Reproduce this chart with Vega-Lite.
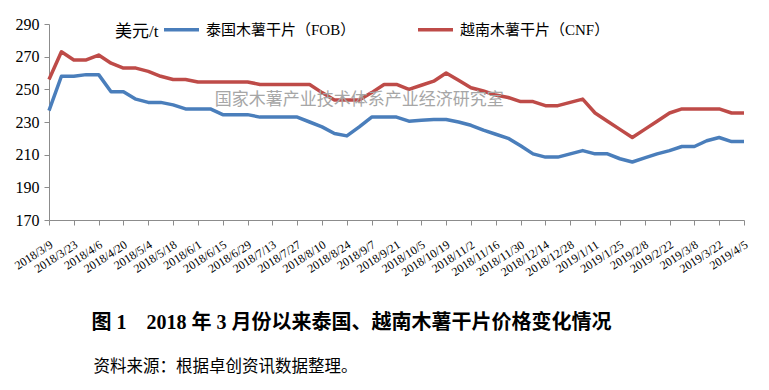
{
  "$schema": "https://vega.github.io/schema/vega-lite/v6.json",
  "width": 695,
  "height": 196,
  "autosize": {"type": "none"},
  "padding": {"left": 49, "top": 24, "right": 25, "bottom": 170},
  "background": "white",
  "config": {"view": {"stroke": null}, "font": "Liberation Serif, Noto Sans CJK SC", "axis": {"labelOverlap": false}},
  "resolve": {"axis": {"x": "independent", "y": "independent"}},
  "layer": [
    {
      "data": {"values": [
        {"date": "2018/3/9", "s": "泰国木薯干片（FOB）", "v": 237},
        {"date": "2018/3/16", "s": "泰国木薯干片（FOB）", "v": 258},
        {"date": "2018/3/23", "s": "泰国木薯干片（FOB）", "v": 258},
        {"date": "2018/3/30", "s": "泰国木薯干片（FOB）", "v": 259},
        {"date": "2018/4/6", "s": "泰国木薯干片（FOB）", "v": 259},
        {"date": "2018/4/13", "s": "泰国木薯干片（FOB）", "v": 248.5},
        {"date": "2018/4/20", "s": "泰国木薯干片（FOB）", "v": 248.5},
        {"date": "2018/4/27", "s": "泰国木薯干片（FOB）", "v": 244},
        {"date": "2018/5/4", "s": "泰国木薯干片（FOB）", "v": 242},
        {"date": "2018/5/11", "s": "泰国木薯干片（FOB）", "v": 242},
        {"date": "2018/5/18", "s": "泰国木薯干片（FOB）", "v": 240.5},
        {"date": "2018/5/25", "s": "泰国木薯干片（FOB）", "v": 238},
        {"date": "2018/6/1", "s": "泰国木薯干片（FOB）", "v": 238},
        {"date": "2018/6/8", "s": "泰国木薯干片（FOB）", "v": 238},
        {"date": "2018/6/15", "s": "泰国木薯干片（FOB）", "v": 234.5},
        {"date": "2018/6/22", "s": "泰国木薯干片（FOB）", "v": 234.5},
        {"date": "2018/6/29", "s": "泰国木薯干片（FOB）", "v": 234.5},
        {"date": "2018/7/6", "s": "泰国木薯干片（FOB）", "v": 233},
        {"date": "2018/7/13", "s": "泰国木薯干片（FOB）", "v": 233},
        {"date": "2018/7/20", "s": "泰国木薯干片（FOB）", "v": 233},
        {"date": "2018/7/27", "s": "泰国木薯干片（FOB）", "v": 233},
        {"date": "2018/8/3", "s": "泰国木薯干片（FOB）", "v": 230},
        {"date": "2018/8/10", "s": "泰国木薯干片（FOB）", "v": 227},
        {"date": "2018/8/17", "s": "泰国木薯干片（FOB）", "v": 223},
        {"date": "2018/8/24", "s": "泰国木薯干片（FOB）", "v": 221.5},
        {"date": "2018/8/31", "s": "泰国木薯干片（FOB）", "v": 227},
        {"date": "2018/9/7", "s": "泰国木薯干片（FOB）", "v": 233},
        {"date": "2018/9/14", "s": "泰国木薯干片（FOB）", "v": 233},
        {"date": "2018/9/21", "s": "泰国木薯干片（FOB）", "v": 233},
        {"date": "2018/9/28", "s": "泰国木薯干片（FOB）", "v": 230.5},
        {"date": "2018/10/5", "s": "泰国木薯干片（FOB）", "v": 231},
        {"date": "2018/10/12", "s": "泰国木薯干片（FOB）", "v": 231.5},
        {"date": "2018/10/19", "s": "泰国木薯干片（FOB）", "v": 231.5},
        {"date": "2018/10/26", "s": "泰国木薯干片（FOB）", "v": 230},
        {"date": "2018/11/2", "s": "泰国木薯干片（FOB）", "v": 228},
        {"date": "2018/11/9", "s": "泰国木薯干片（FOB）", "v": 225},
        {"date": "2018/11/16", "s": "泰国木薯干片（FOB）", "v": 222.5},
        {"date": "2018/11/23", "s": "泰国木薯干片（FOB）", "v": 220},
        {"date": "2018/11/30", "s": "泰国木薯干片（FOB）", "v": 215.5},
        {"date": "2018/12/7", "s": "泰国木薯干片（FOB）", "v": 210.5},
        {"date": "2018/12/14", "s": "泰国木薯干片（FOB）", "v": 208.5},
        {"date": "2018/12/21", "s": "泰国木薯干片（FOB）", "v": 208.5},
        {"date": "2018/12/28", "s": "泰国木薯干片（FOB）", "v": 210.5},
        {"date": "2019/1/4", "s": "泰国木薯干片（FOB）", "v": 212.5},
        {"date": "2019/1/11", "s": "泰国木薯干片（FOB）", "v": 210.5},
        {"date": "2019/1/18", "s": "泰国木薯干片（FOB）", "v": 210.5},
        {"date": "2019/1/25", "s": "泰国木薯干片（FOB）", "v": 207.5},
        {"date": "2019/2/1", "s": "泰国木薯干片（FOB）", "v": 205.5},
        {"date": "2019/2/8", "s": "泰国木薯干片（FOB）", "v": 208},
        {"date": "2019/2/15", "s": "泰国木薯干片（FOB）", "v": 210.5},
        {"date": "2019/2/22", "s": "泰国木薯干片（FOB）", "v": 212.5},
        {"date": "2019/3/1", "s": "泰国木薯干片（FOB）", "v": 215},
        {"date": "2019/3/8", "s": "泰国木薯干片（FOB）", "v": 215},
        {"date": "2019/3/15", "s": "泰国木薯干片（FOB）", "v": 218.5},
        {"date": "2019/3/22", "s": "泰国木薯干片（FOB）", "v": 220.5},
        {"date": "2019/3/29", "s": "泰国木薯干片（FOB）", "v": 218},
        {"date": "2019/4/5", "s": "泰国木薯干片（FOB）", "v": 218},
        {"date": "2018/3/9", "s": "越南木薯干片（CNF）", "v": 256},
        {"date": "2018/3/16", "s": "越南木薯干片（CNF）", "v": 273},
        {"date": "2018/3/23", "s": "越南木薯干片（CNF）", "v": 268},
        {"date": "2018/3/30", "s": "越南木薯干片（CNF）", "v": 268},
        {"date": "2018/4/6", "s": "越南木薯干片（CNF）", "v": 271},
        {"date": "2018/4/13", "s": "越南木薯干片（CNF）", "v": 266},
        {"date": "2018/4/20", "s": "越南木薯干片（CNF）", "v": 263},
        {"date": "2018/4/27", "s": "越南木薯干片（CNF）", "v": 263},
        {"date": "2018/5/4", "s": "越南木薯干片（CNF）", "v": 261},
        {"date": "2018/5/11", "s": "越南木薯干片（CNF）", "v": 258},
        {"date": "2018/5/18", "s": "越南木薯干片（CNF）", "v": 256},
        {"date": "2018/5/25", "s": "越南木薯干片（CNF）", "v": 256},
        {"date": "2018/6/1", "s": "越南木薯干片（CNF）", "v": 254.5},
        {"date": "2018/6/8", "s": "越南木薯干片（CNF）", "v": 254.5},
        {"date": "2018/6/15", "s": "越南木薯干片（CNF）", "v": 254.5},
        {"date": "2018/6/22", "s": "越南木薯干片（CNF）", "v": 254.5},
        {"date": "2018/6/29", "s": "越南木薯干片（CNF）", "v": 254.5},
        {"date": "2018/7/6", "s": "越南木薯干片（CNF）", "v": 253},
        {"date": "2018/7/13", "s": "越南木薯干片（CNF）", "v": 253},
        {"date": "2018/7/20", "s": "越南木薯干片（CNF）", "v": 253},
        {"date": "2018/7/27", "s": "越南木薯干片（CNF）", "v": 253},
        {"date": "2018/8/3", "s": "越南木薯干片（CNF）", "v": 253},
        {"date": "2018/8/10", "s": "越南木薯干片（CNF）", "v": 248},
        {"date": "2018/8/17", "s": "越南木薯干片（CNF）", "v": 243.5},
        {"date": "2018/8/24", "s": "越南木薯干片（CNF）", "v": 243.5},
        {"date": "2018/8/31", "s": "越南木薯干片（CNF）", "v": 243.5},
        {"date": "2018/9/7", "s": "越南木薯干片（CNF）", "v": 248},
        {"date": "2018/9/14", "s": "越南木薯干片（CNF）", "v": 253},
        {"date": "2018/9/21", "s": "越南木薯干片（CNF）", "v": 253},
        {"date": "2018/9/28", "s": "越南木薯干片（CNF）", "v": 250},
        {"date": "2018/10/5", "s": "越南木薯干片（CNF）", "v": 252.5},
        {"date": "2018/10/12", "s": "越南木薯干片（CNF）", "v": 255},
        {"date": "2018/10/19", "s": "越南木薯干片（CNF）", "v": 260},
        {"date": "2018/10/26", "s": "越南木薯干片（CNF）", "v": 255.5},
        {"date": "2018/11/2", "s": "越南木薯干片（CNF）", "v": 251},
        {"date": "2018/11/9", "s": "越南木薯干片（CNF）", "v": 249},
        {"date": "2018/11/16", "s": "越南木薯干片（CNF）", "v": 246.5},
        {"date": "2018/11/23", "s": "越南木薯干片（CNF）", "v": 245},
        {"date": "2018/11/30", "s": "越南木薯干片（CNF）", "v": 242.5},
        {"date": "2018/12/7", "s": "越南木薯干片（CNF）", "v": 242.5},
        {"date": "2018/12/14", "s": "越南木薯干片（CNF）", "v": 240},
        {"date": "2018/12/21", "s": "越南木薯干片（CNF）", "v": 240},
        {"date": "2018/12/28", "s": "越南木薯干片（CNF）", "v": 242},
        {"date": "2019/1/4", "s": "越南木薯干片（CNF）", "v": 244},
        {"date": "2019/1/11", "s": "越南木薯干片（CNF）", "v": 235.5},
        {"date": "2019/1/18", "s": "越南木薯干片（CNF）", "v": 230.5},
        {"date": "2019/1/25", "s": "越南木薯干片（CNF）", "v": 225.5},
        {"date": "2019/2/1", "s": "越南木薯干片（CNF）", "v": 220.5},
        {"date": "2019/2/8", "s": "越南木薯干片（CNF）", "v": 225.5},
        {"date": "2019/2/15", "s": "越南木薯干片（CNF）", "v": 230.5},
        {"date": "2019/2/22", "s": "越南木薯干片（CNF）", "v": 235.5},
        {"date": "2019/3/1", "s": "越南木薯干片（CNF）", "v": 238},
        {"date": "2019/3/8", "s": "越南木薯干片（CNF）", "v": 238},
        {"date": "2019/3/15", "s": "越南木薯干片（CNF）", "v": 238},
        {"date": "2019/3/22", "s": "越南木薯干片（CNF）", "v": 238},
        {"date": "2019/3/29", "s": "越南木薯干片（CNF）", "v": 235.5},
        {"date": "2019/4/5", "s": "越南木薯干片（CNF）", "v": 235.5}
      ]},
      "mark": {"type": "line", "strokeWidth": 3.5, "strokeJoin": "round"},
      "encoding": {
        "x": {
          "field": "date", "type": "ordinal", "sort": null,
          "scale": {"type": "point", "padding": 0},
          "axis": {
            "title": "图 1　2018 年 3 月份以来泰国、越南木薯干片价格变化情况",
            "titleX": 42,
            "titleY": 102,
            "titleAlign": "left",
            "titleAnchor": "start",
            "titleBaseline": "middle",
            "titleFont": "Liberation Serif, Noto Sans CJK SC",
            "titleFontSize": 20,
            "titleFontWeight": "bold",
            "titleColor": "#000000",
            "values": ["2018/3/9","2018/3/23","2018/4/6","2018/4/20","2018/5/4","2018/5/18","2018/6/1","2018/6/15","2018/6/29","2018/7/13","2018/7/27","2018/8/10","2018/8/24","2018/9/7","2018/9/21","2018/10/5","2018/10/19","2018/11/2","2018/11/16","2018/11/30","2018/12/14","2018/12/28","2019/1/11","2019/1/25","2019/2/8","2019/2/22","2019/3/8","2019/3/22","2019/4/5"],
            "labelAngle": -33,
            "labelAlign": "right",
            "labelBaseline": "middle",
            "labelFont": "Liberation Serif",
            "labelFontSize": 12,
            "labelColor": "#000000",
            "labelPadding": 18,
            "labelOffset": 2,
            "tickSize": 5,
            "tickColor": "#8c8c8c",
            "domainColor": "#8c8c8c",
            "labelOverlap": false,
            "grid": false
          }
        },
        "y": {
          "field": "v", "type": "quantitative",
          "scale": {"domain": [170, 290], "nice": false, "zero": false},
          "axis": {
            "values": [170, 190, 210, 230, 250, 270, 290],
            "labelOverlap": false,
            "grid": false,
            "title": "资料来源：根据卓创资讯数据整理。",
            "titleAngle": 0,
            "titleX": 44,
            "titleY": 342,
            "titleAlign": "left",
            "titleAnchor": "start",
            "titleBaseline": "middle",
            "titleFont": "Liberation Serif, Noto Sans CJK SC",
            "titleFontSize": 16.5,
            "titleFontWeight": "normal",
            "titleColor": "#000000",
            "labelFont": "Liberation Serif",
            "labelFontSize": 16,
            "labelColor": "#000000",
            "labelPadding": 5,
            "tickSize": 5,
            "tickColor": "#8c8c8c",
            "domainColor": "#8c8c8c"
          }
        },
        "color": {
          "field": "s", "type": "nominal",
          "scale": {"domain": ["泰国木薯干片（FOB）", "越南木薯干片（CNF）"], "range": ["#4A7EBB", "#BE4B48"]},
          "legend": {
            "title": "美元/t",
            "titleOrient": "left",
            "titleAnchor": "middle",
            "titlePadding": 3,
            "titleFont": "Liberation Serif, Noto Sans CJK SC",
            "titleFontSize": 17,
            "titleFontWeight": "normal",
            "titleColor": "#000000",
            "titleBaseline": "top",
            "orient": "none",
            "legendX": 66,
            "legendY": -14,
            "direction": "horizontal",
            "symbolType": "stroke",
            "symbolStrokeWidth": 3.5,
            "symbolSize": 1225,
            "labelFont": "Liberation Serif, Noto Sans CJK SC",
            "labelFontSize": 15,
            "labelColor": "#000000",
            "labelOffset": 5,
            "columnPadding": 55,
            "labelLimit": 300
          }
        }
      }
    },
    {
      "data": {"values": [{"label": "国家木薯产业技术体系产业经济研究室"}]},
      "mark": {"type": "text", "fontSize": 17, "color": "#a6a6a6", "font": "Noto Sans CJK SC", "align": "center", "baseline": "middle"},
      "encoding": {
        "x": {"datum": "2018/8/31", "type": "ordinal", "axis": null},
        "y": {"datum": 243.6, "type": "quantitative", "axis": null},
        "text": {"field": "label"}
      }
    }
  ]
}
